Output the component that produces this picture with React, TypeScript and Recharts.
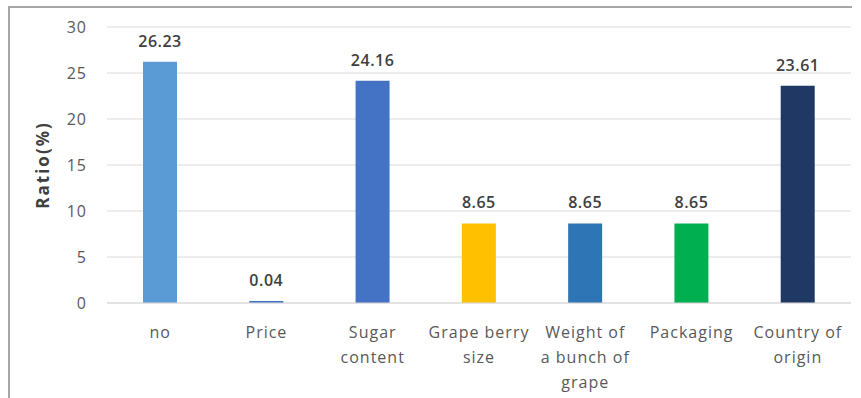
import React from "react";
import { BarChart, Bar, XAxis, YAxis, CartesianGrid, Cell, LabelList } from "recharts";

const categories: string[] = [
  "no",
  "Price",
  "Sugar\ncontent",
  "Grape berry\nsize",
  "Weight of\na bunch of\ngrape",
  "Packaging",
  "Country of\norigin",
];
const ratios: number[] = [26.23, 0.04, 24.16, 8.65, 8.65, 8.65, 23.61];
const barColors: string[] = ["#5B9BD5", "#4472C4", "#4472C4", "#FFC000", "#2E75B6", "#00B050", "#1F3864"];
const yTicks: number[] = [0, 5, 10, 15, 20, 25, 30];

const data = categories.map((name, i) => ({ name, value: ratios[i] }));

const FONT = "'Open Sans', 'Noto Sans', sans-serif";

// category labels carry their own line breaks
const MultiLineTick = (props: any) => {
  const { x, y, payload } = props;
  const lines = String(payload.value).split("\n");
  return (
    <g transform={`translate(${x},${y})`}>
      {lines.map((line: string, i: number) => (
        <text
          key={i}
          x={0}
          y={i * 25}
          dy={27}
          textAnchor="middle"
          fill="#595959"
          fontSize={16}
          letterSpacing={1}
          fontFamily={FONT}
        >
          {line}
        </text>
      ))}
    </g>
  );
};

const App: React.FC = () => {
  return (
    <div style={{ position: "absolute", left: 0, top: 0, width: 861, height: 398, background: "#fff" }}>
      <div
        style={{
          position: "absolute",
          left: 8,
          top: 6,
          width: 842,
          height: 392,
          borderTop: "2px solid #a6a6a6",
          borderLeft: "2px solid #a6a6a6",
        }}
      />
      <div style={{ position: "absolute", left: 0, top: 0 }}>
        <BarChart
          width={861}
          height={398}
          data={data}
          margin={{ top: 27, right: 10, bottom: 10, left: 30 }}
        >
          <CartesianGrid vertical={false} stroke="#d9d9d9" strokeWidth={1} />
          <XAxis
            dataKey="name"
            interval={0}
            axisLine={{ stroke: "#d9d9d9" }}
            tickLine={false}
            height={85}
            tick={<MultiLineTick />}
          />
          <YAxis
            domain={[0, 30]}
            ticks={yTicks}
            axisLine={false}
            tickLine={false}
            width={77}
            tickMargin={14}
            tick={{ fill: "#595959", fontSize: 16, fontFamily: FONT, letterSpacing: 1 }}
            label={{
              value: "Ratio(%)",
              angle: -90,
              position: "insideLeft",
              offset: 13,
              style: {
                fill: "#404040",
                fontSize: 17,
                fontWeight: 700,
                letterSpacing: 2,
                fontFamily: FONT,
                textAnchor: "middle",
              },
            }}
          />
          <Bar dataKey="value" barSize={34} minPointSize={2} isAnimationActive={false}>
            {data.map((_, i) => (
              <Cell key={i} fill={barColors[i]} />
            ))}
            <LabelList
              dataKey="value"
              position="top"
              offset={15}
              fill="#404040"
              fontSize={16}
              fontWeight={600}
              letterSpacing={0.5}
              fontFamily={FONT}
              formatter={(v: any) => Number(v).toFixed(2)}
            />
          </Bar>
        </BarChart>
      </div>
    </div>
  );
};

export default App;
